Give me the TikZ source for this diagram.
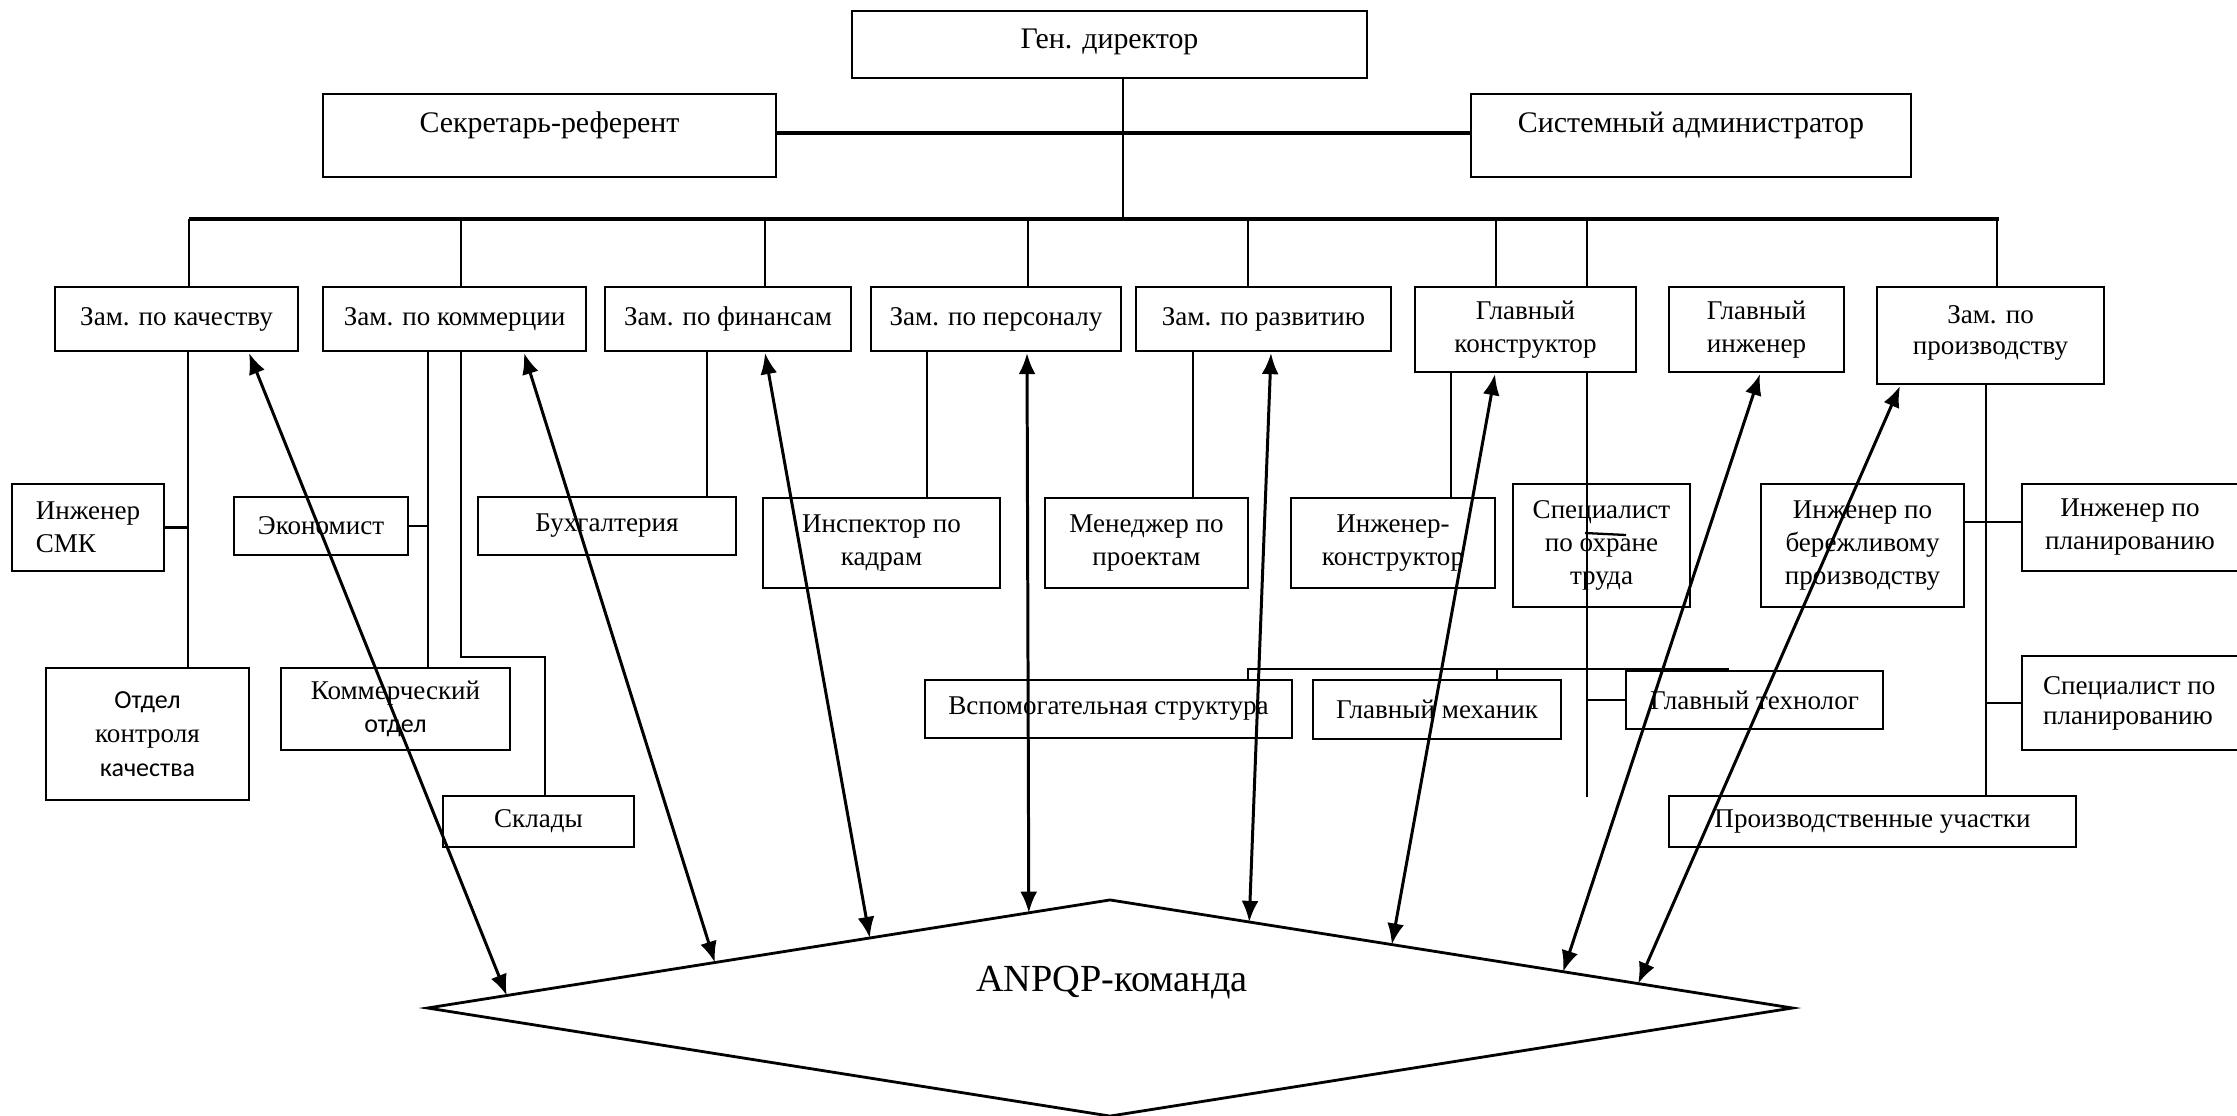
\documentclass[tikz,border=0pt]{standalone}
\usepackage{fontspec}
\setmainfont{Liberation Serif}
\newfontfamily\calib{Carlito}
\usetikzlibrary{arrows.meta,calc,shapes.geometric}
\newcommand\szA{\fontsize{7.7}{9.4}\selectfont}
\newcommand\szB{\fontsize{8.5}{10}\selectfont}
\newcommand\szC{\fontsize{10.9}{13}\selectfont}
\newcommand\szK{\fontsize{7.4}{9.8}\selectfont}
\newcommand\upby[2]{\raisebox{#1}[\height][\depth]{#2}}
\tikzset{
  box/.style={draw,line width=0.6pt,inner sep=0pt,outer sep=0pt,align=center,font=\szA},
  txt/.style={inner sep=0pt,outer sep=0pt,font=\szA},
  ln/.style={line width=0.65pt},
  busln/.style={line width=0.9pt},
  arr/.style={{Latex[length=6pt,width=4.8pt]}-{Latex[length=6pt,width=4.8pt]},line width=0.85pt},
}
\newcommand\mkbox[7][]{%
  \node[box,#1,minimum width={(#5-#3)*0.284528pt},minimum height={(#6-#4)*0.284528pt}]
    (#2) at ({(#3+#5)/2},{(#4+#6)/2}) {#7};}
\begin{document}
\begin{tikzpicture}[x=0.01cm,y=-0.01cm]
\fill[white] (0,0) rectangle (2237,1115);
\useasboundingbox (0,0) rectangle (2237,1115);

% top level
\mkbox[font=\szB]{gd}{852}{11}{1367}{78}{\upby{0.7pt}{Ген. директор}}
\mkbox[font=\szB]{sec}{323}{94}{776}{177}{\upby{2.8pt}{Секретарь-референт}}
\mkbox[font=\szB]{sys}{1471}{94}{1911}{177}{\upby{2.8pt}{Системный администратор}}

% level 2
\mkbox{zk}{55}{287}{298}{351}{Зам. по качеству}
\mkbox{zc}{323}{287}{586}{351}{Зам. по коммерции}
\mkbox{zf}{605}{287}{851}{351}{Зам. по финансам}
\mkbox{zp}{871}{287}{1121}{351}{Зам. по персоналу}
\mkbox{zr}{1136}{287}{1391}{351}{Зам. по развитию}
\mkbox{gk}{1415}{287}{1636}{372}{Главный\\конструктор}
\mkbox{gi}{1669}{287}{1844}{372}{Главный\\инженер}
\mkbox{zpr}{1877}{287}{2104}{384}{\upby{1pt}{\begin{tabular}{@{}c@{}}Зам. по\\[-0.6pt]производству\end{tabular}}}

% level 3
\mkbox[align=left]{smk}{12}{484}{164}{571}{Инженер\\СМК}
\mkbox{eco}{234}{497}{408}{555}{Экономист}
\mkbox{bux}{478}{497}{736}{555}{Бухгалтерия}
\mkbox{okk}{46}{668}{249}{800}{{\calib\szK Отдел}\\[0.3pt]контроля\\[0.3pt]{\calib\szK качества}}
\mkbox{kom}{281}{668}{510}{750}{Коммерческий\\{\calib\szK отдел}}
\mkbox{skl}{443}{796}{634}{847}{Склады}
\mkbox{ins}{763}{498}{1000}{588}{Инспектор по\\кадрам}
\mkbox{men}{1045}{498}{1248}{588}{Менеджер по\\проектам}
\mkbox{ik}{1291}{498}{1495}{588}{Инженер-\\конструктор}
\mkbox{sot}{1513}{484}{1690}{607}{Специалист\\по охране\\труда}
\mkbox{ber}{1761}{484}{1964}{607}{Инженер по\\бережливому\\производству}
\mkbox{ip}{2022}{484}{2260}{571}{}
\mkbox{sp}{2022}{656}{2260}{750}{}
\node[txt,align=center] (ipt) at (2130,527) {Инженер по\\планированию};
\node[txt,align=left,anchor=west] (spt) at (2043,703.5) {Специалист по\\[-1pt]планированию};
\mkbox{vsp}{925}{680}{1292}{738}{Вспомогательная структура}
\mkbox{gm}{1313}{680}{1561}{739}{Главный механик}
\mkbox{gt}{1626}{671}{1883}{729}{Главный технолог}
\mkbox{pu}{1669}{796}{2076}{847}{Производственные участки}

% diamond
\node[draw,diamond,line width=0.8pt,inner sep=0pt,outer sep=0pt,
      minimum width={1364*0.284528pt},minimum height={216*0.284528pt}] (dia) at (1110,1008) {};
\node[txt,font=\szC] (apqp) at (1112,982) {ANPQP-команда};

% bus
\coordinate (b1) at (189,219);
\coordinate (b2) at (461,219);
\coordinate (b3) at (765,219);
\coordinate (b4) at (1028,219);
\coordinate (b5) at (1248,219);
\coordinate (bG) at (1123,219);
\coordinate (b6) at (1496,219);
\coordinate (b7) at (1587,219);
\coordinate (b8) at (1997,219);
\coordinate (e7) at (1587,797);
\draw[busln] (b1) -- (1999,219);
\draw[ln] (gd.south -| bG) -- (bG);
\draw[busln] (sec.east |- 0,133) -- (sys.west |- 0,133);
\draw[ln] (b1) -- (b1 |- zk.north);
\draw[ln] (b2) -- (b2 |- zc.north);
\draw[ln] (b3) -- (b3 |- zf.north);
\draw[ln] (b4) -- (b4 |- zp.north);
\draw[ln] (b5) -- (b5 |- zr.north);
\draw[ln] (b6) -- (b6 |- gk.north);
\draw[ln] (b7) -- (b7 |- gk.north);
\draw[ln] (b8) -- (b8 |- zpr.north);
\draw[ln] (gk.south -| b7) -- (e7);

% level 3 connectors
\draw[ln] (zk.south -| 188,0) -- (okk.north -| 188,0);
\draw[ln] (smk.east) -- (smk.east -| 188,0);
\draw[ln] (zc.south -| 428,0) -- (kom.north -| 428,0);
\draw[ln] (eco.east) -- (eco.east -| 428,0);
\draw[ln] (zc.south -| 461,0) |- (545,657) -- (skl.north -| 545,0);
\draw[ln] (zf.south -| 707,0) -- (bux.north -| 707,0);
\draw[ln] (zp.south -| 927,0) -- (ins.north -| 927,0);
\draw[ln] (zr.south -| 1193,0) -- (men.north -| 1193,0);
\draw[ln] (gk.south -| 1451,0) -- (ik.north -| 1451,0);
\draw[ln] (vsp.north -| 1248,0) |- (1729,669);
\draw[ln] (gm.north -| 1497,0) -- (1497,669);
\draw[ln] (gt.west) -- (gt.west -| e7);
\draw[ln] (1585,533) -- (1626,535);
\draw[ln] (zpr.south -| 1986,0) -- (pu.north -| 1986,0);
\draw[ln] (ber.east |- 0,522) -- (ip.west |- 0,522);
\draw[ln] (sp.west -| 1986,0) -- (sp.west);

% arrows to ANPQP team
\draw[arr] ($(zk.south)+(72.5,2)$) -- ($(dia.west)!0.116!(dia.north)$);
\draw[arr] ($(zc.south)+(69.5,2)$) -- ($(dia.west)!0.421!(dia.north)$);
\draw[arr] ($(zf.south)+(37,2)$) -- ($(dia.west)!0.648!(dia.north)$);
\draw[arr] ($(zp.south)+(31,2)$) -- ($(dia.west)!0.881!(dia.north)$);
\draw[arr] ($(zr.south)+(7.5,2)$) -- ($(dia.north)!0.204!(dia.east)$);
\draw[arr] ($(gk.south)+(-30.5,2)$) -- ($(dia.north)!0.413!(dia.east)$);
\draw[arr] ($(gi.south)+(3.5,2)$) -- ($(dia.north)!0.664!(dia.east)$);
\draw[arr] ($(zpr.south)+(-90.5,2)$) -- ($(dia.north)!0.774!(dia.east)$);
\end{tikzpicture}
\end{document}
